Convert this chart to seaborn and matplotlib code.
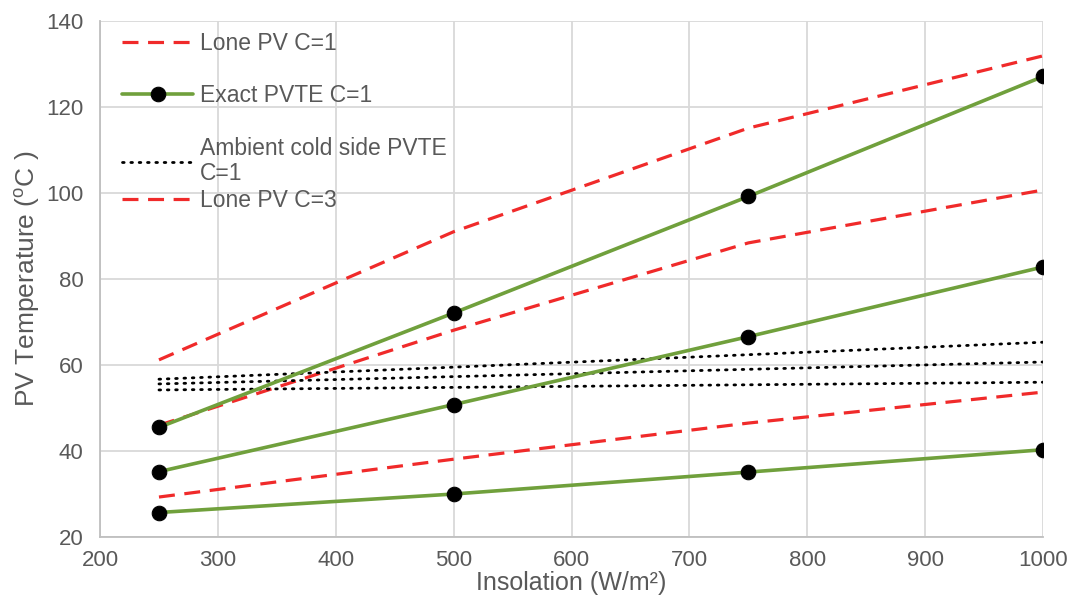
import matplotlib
matplotlib.use("Agg")
import matplotlib.pyplot as plt
import seaborn as sns
import pandas as pd

insolation = [250, 500, 750, 1000]

lone_pv_a = [61.2, 91.0, 115.1, 131.9]
lone_pv_b = [46.0, 68.1, 88.4, 100.7]
lone_pv_c = [29.3, 38.1, 46.5, 53.7]

exact_a = [45.5, 72.1, 99.2, 127.1]
exact_b = [35.2, 50.8, 66.6, 82.8]
exact_c = [25.7, 30.0, 35.1, 40.3]

ambient_a = [56.7, 59.5, 62.4, 65.3]
ambient_b = [55.6, 57.3, 59.0, 60.7]
ambient_c = [54.2, 54.8, 55.4, 56.0]

sns.set_theme(style="whitegrid")
plt.rcParams['font.family'] = ['Liberation Sans', 'DejaVu Sans']
plt.rcParams['mathtext.default'] = 'regular'

fig = plt.figure(figsize=(10.71, 6.04), dpi=100)
ax = fig.add_axes([0.0934, 0.1109, 0.8805, 0.8543])

red = '#f02a2a'
green = '#70a03c'
grey = '#595959'
dash = (0, (5, 3))
dot = (0, (0.6, 2.4))

red_style = dict(color=red, linestyle=dash, lw=2.3)
dot_style = dict(color='black', linestyle=dot, lw=2.0, dash_capstyle='round')
green_style = dict(color=green, linestyle='-', lw=2.6, marker='o', markersize=10.5,
                   markerfacecolor='black', markeredgecolor='black')

series = [
    (lone_pv_a, red_style, None),
    (lone_pv_b, red_style, 'Lone PV C=3'),
    (lone_pv_c, red_style, 'Lone PV C=1'),
    (ambient_a, dot_style, 'Ambient cold side PVTE\nC=1'),
    (ambient_b, dot_style, None),
    (ambient_c, dot_style, None),
    (exact_a, green_style, 'Exact PVTE C=1'),
    (exact_b, green_style, None),
    (exact_c, green_style, None),
]

handles = {}
for vals, style, label in series:
    df = pd.DataFrame({'x': insolation, 'y': vals})
    sns.lineplot(data=df, x='x', y='y', ax=ax, **style)
    if label:
        handles[label] = ax.get_lines()[-1]

leg_kw = dict(loc='upper left', frameon=False, fontsize=16.5, handlelength=3.1,
              handletextpad=0.3, borderpad=0, borderaxespad=0, labelspacing=1.29)
order_a = ['Lone PV C=1', 'Exact PVTE C=1', 'Ambient cold side PVTE\nC=1']
leg_a = ax.legend([handles[k] for k in order_a], order_a,
                  bbox_to_anchor=(0.0233, 0.979), **leg_kw)
for t in leg_a.get_texts():
    t.set_color(grey)
    t.set_linespacing(1.1)
ax.add_artist(leg_a)
leg_b = ax.legend([handles['Lone PV C=3']], ['Lone PV C=3'],
                  bbox_to_anchor=(0.0233, 0.674), **leg_kw)
for t in leg_b.get_texts():
    t.set_color(grey)

ax.set_xlim(200, 1000)
ax.set_ylim(20, 140)
ax.set_xticks(range(200, 1001, 100))
ax.set_yticks(range(20, 141, 20))
ax.grid(True, color='#d9d9d9', lw=1.3)
for s in ['top', 'right']:
    ax.spines[s].set_visible(False)
for s in ['left', 'bottom']:
    ax.spines[s].set_color('#bfbfbf')
    ax.spines[s].set_linewidth(1.3)
ax.tick_params(axis='both', labelsize=16, colors=grey, length=0)
ax.tick_params(axis='x', pad=9)
ax.tick_params(axis='y', pad=12)
ax.set_xlabel('Insolation (W/m²)', fontsize=18, color=grey, labelpad=0)
ax.set_ylabel('PV Temperature ($^{o}$C )', fontsize=19, color=grey, labelpad=3)

fig.savefig('out.png', dpi=100)
